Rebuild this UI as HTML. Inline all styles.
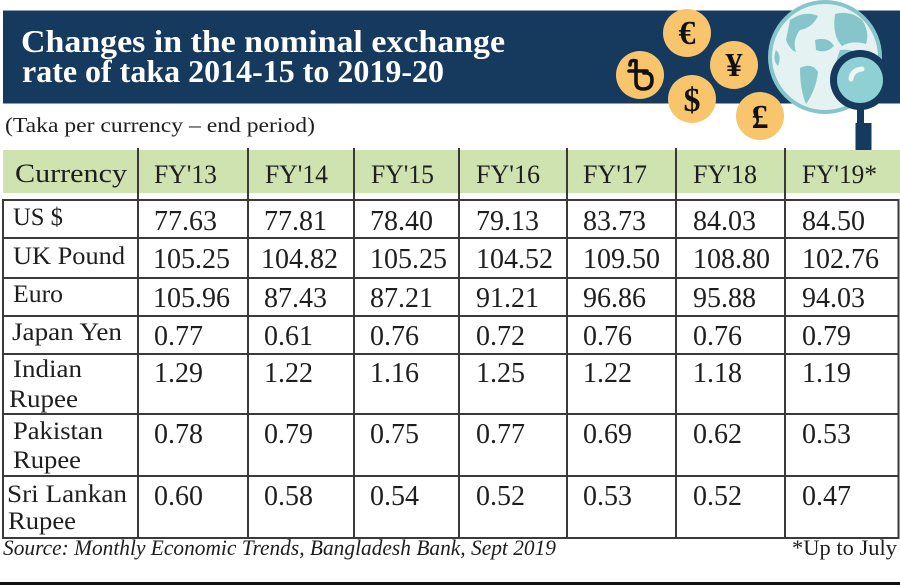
<!DOCTYPE html>
<html>
<head>
<meta charset="utf-8">
<style>
html,body{margin:0;padding:0;background:#fff;}
svg{display:block;}
text{font-family:"Liberation Serif",serif;fill:#1e1e1e;}
.v{font-size:28px;}
.l{font-size:25px;}
.h{font-size:26.5px;}
</style>
</head>
<body>
<svg width="900" height="585" viewBox="0 0 900 585" xmlns="http://www.w3.org/2000/svg">
<rect x="0" y="0" width="900" height="585" fill="#ffffff"/>
<!-- banner -->
<rect x="3" y="10.5" width="897" height="93" fill="#163a5e"/>
<text x="21" y="52" font-size="32" font-weight="bold" style="fill:#fff" textLength="484" lengthAdjust="spacingAndGlyphs">Changes in the nominal exchange</text>
<text x="22" y="82" font-size="32" font-weight="bold" style="fill:#fff" textLength="422" lengthAdjust="spacingAndGlyphs">rate of taka 2014-15 to 2019-20</text>

<!-- coins -->
<g fill="#f8c46c">
<circle cx="640" cy="75" r="24"/>
<circle cx="687" cy="33" r="24"/>
<circle cx="734" cy="65" r="24"/>
<circle cx="692" cy="99" r="24"/>
<circle cx="760" cy="116" r="24"/>
</g>
<text x="687" y="44" font-size="34" font-weight="bold" text-anchor="middle" style="fill:#111">€</text>
<text x="734" y="76" font-size="34" font-weight="bold" text-anchor="middle" style="fill:#111">¥</text>
<text x="692" y="111" font-size="34" font-weight="bold" text-anchor="middle" style="fill:#111">$</text>
<text x="760" y="128" font-size="34" font-weight="bold" text-anchor="middle" style="fill:#111">£</text>
<!-- taka icon -->
<g fill="none" stroke="#111" stroke-width="3.6" stroke-linecap="round">
<path d="M630 65 Q630 59 636 61 L636 82 Q636 89 643 89 Q652 89 652 80 Q652 72 644 73"/>
<path d="M629 71 L647 71"/>
</g>

<!-- globe -->
<circle cx="825" cy="57" r="57" fill="#86c6ca"/>
<circle cx="825" cy="57" r="53" fill="#e4f2f2"/>
<g fill="#86c6ca">
<path d="M790 20 Q805 10 818 16 Q812 28 800 30 Q792 40 796 52 Q790 50 786 40 Z"/>
<path d="M800 68 Q812 62 818 72 Q816 90 806 104 Q800 90 800 68 Z"/>
<path d="M835 14 Q850 10 862 20 Q870 32 866 44 Q852 40 842 46 Q832 36 835 14 Z"/>
<path d="M840 50 Q855 48 870 60 Q878 80 870 100 Q850 108 835 90 Q832 70 840 50 Z"/>
<path d="M776 50 Q782 56 778 66 Q772 60 776 50 Z"/>
<path d="M815 40 Q828 36 834 46 Q826 54 816 50 Z"/>
</g>

<!-- magnifier -->
<rect x="857" y="104" width="7" height="20" fill="#163a5e"/>
<rect x="855.5" y="123" width="16" height="29" fill="#163a5e"/>
<circle cx="860" cy="80" r="30" fill="#163a5e"/>
<circle cx="860" cy="80" r="23" fill="#8fd0d4"/>
<path d="M851 79 Q852 70 862 69" fill="none" stroke="#eef6f6" stroke-width="5" stroke-linecap="round"/>

<!-- subtitle -->
<text x="5" y="132" font-size="21" textLength="310" lengthAdjust="spacingAndGlyphs">(Taka per currency – end period)</text>

<!-- header -->
<rect x="3" y="150" width="897" height="43" fill="#cfe3b1"/>

<!-- grid -->
<g stroke="#3a3a3a" stroke-width="2">
<line x1="3" y1="200" x2="899" y2="200"/>
<line x1="3" y1="238" x2="899" y2="238"/>
<line x1="3" y1="278" x2="899" y2="278"/>
<line x1="3" y1="316" x2="899" y2="316"/>
<line x1="3" y1="354" x2="899" y2="354"/>
<line x1="3" y1="414" x2="899" y2="414"/>
<line x1="3" y1="476" x2="899" y2="476"/>
<line x1="3" y1="538" x2="899" y2="538"/>
<line x1="3" y1="199" x2="3" y2="539"/>
<line x1="898.5" y1="199" x2="898.5" y2="539"/>
<line x1="138" y1="148" x2="138" y2="539"/>
<line x1="248" y1="148" x2="248" y2="539"/>
<line x1="354" y1="148" x2="354" y2="539"/>
<line x1="459" y1="148" x2="459" y2="539"/>
<line x1="567" y1="148" x2="567" y2="539"/>
<line x1="676" y1="148" x2="676" y2="539"/>
<line x1="785" y1="148" x2="785" y2="539"/>
</g>

<!-- header text -->
<text class="h" x="15" y="182" textLength="112" lengthAdjust="spacingAndGlyphs">Currency</text>
<text class="h" x="154" y="183" textLength="63" lengthAdjust="spacingAndGlyphs">FY'13</text>
<text class="h" x="265" y="183" textLength="63" lengthAdjust="spacingAndGlyphs">FY'14</text>
<text class="h" x="371" y="183" textLength="63" lengthAdjust="spacingAndGlyphs">FY'15</text>
<text class="h" x="476" y="183" textLength="64" lengthAdjust="spacingAndGlyphs">FY'16</text>
<text class="h" x="583" y="183" textLength="64" lengthAdjust="spacingAndGlyphs">FY'17</text>
<text class="h" x="693" y="183" textLength="64" lengthAdjust="spacingAndGlyphs">FY'18</text>
<text class="h" x="802" y="183" textLength="75" lengthAdjust="spacingAndGlyphs">FY'19*</text>

<!-- labels -->
<text class="l" x="13" y="225" textLength="50" lengthAdjust="spacingAndGlyphs">US $</text>
<text class="l" x="13" y="264" textLength="112" lengthAdjust="spacingAndGlyphs">UK Pound</text>
<text class="l" x="13" y="302" textLength="50" lengthAdjust="spacingAndGlyphs">Euro</text>
<text class="l" x="12" y="340" textLength="110" lengthAdjust="spacingAndGlyphs">Japan Yen</text>
<text class="l" x="13" y="377" textLength="69" lengthAdjust="spacingAndGlyphs">Indian</text>
<text class="l" x="9" y="407" textLength="69" lengthAdjust="spacingAndGlyphs">Rupee</text>
<text class="l" x="13" y="439" textLength="90" lengthAdjust="spacingAndGlyphs">Pakistan</text>
<text class="l" x="13" y="468" textLength="68" lengthAdjust="spacingAndGlyphs">Rupee</text>
<text class="l" x="7" y="502" textLength="120" lengthAdjust="spacingAndGlyphs">Sri Lankan</text>
<text class="l" x="8" y="529" textLength="68" lengthAdjust="spacingAndGlyphs">Rupee</text>

<!-- values -->
<g class="v">
<text class="v" x="154" y="230">77.63</text><text class="v" x="264" y="230">77.81</text><text class="v" x="370" y="230">78.40</text><text class="v" x="476" y="230">79.13</text><text class="v" x="583" y="230">83.73</text><text class="v" x="693" y="230">84.03</text><text class="v" x="802" y="230">84.50</text>
<text class="v" x="153" y="268">105.25</text><text class="v" x="261" y="268">104.82</text><text class="v" x="370" y="268">105.25</text><text class="v" x="476" y="268">104.52</text><text class="v" x="583" y="268">109.50</text><text class="v" x="693" y="268">108.80</text><text class="v" x="802" y="268">102.76</text>
<text class="v" x="153" y="307">105.96</text><text class="v" x="264" y="307">87.43</text><text class="v" x="370" y="307">87.21</text><text class="v" x="476" y="307">91.21</text><text class="v" x="583" y="307">96.86</text><text class="v" x="693" y="307">95.88</text><text class="v" x="802" y="307">94.03</text>
<text class="v" x="154" y="345">0.77</text><text class="v" x="264" y="345">0.61</text><text class="v" x="370" y="345">0.76</text><text class="v" x="476" y="345">0.72</text><text class="v" x="583" y="345">0.76</text><text class="v" x="693" y="345">0.76</text><text class="v" x="802" y="345">0.79</text>
<text class="v" x="154" y="382">1.29</text><text class="v" x="264" y="382">1.22</text><text class="v" x="370" y="382">1.16</text><text class="v" x="476" y="382">1.25</text><text class="v" x="583" y="382">1.22</text><text class="v" x="693" y="382">1.18</text><text class="v" x="802" y="382">1.19</text>
<text class="v" x="154" y="443">0.78</text><text class="v" x="264" y="443">0.79</text><text class="v" x="370" y="443">0.75</text><text class="v" x="476" y="443">0.77</text><text class="v" x="583" y="443">0.69</text><text class="v" x="693" y="443">0.62</text><text class="v" x="802" y="443">0.53</text>
<text class="v" x="154" y="505">0.60</text><text class="v" x="264" y="505">0.58</text><text class="v" x="370" y="505">0.54</text><text class="v" x="476" y="505">0.52</text><text class="v" x="583" y="505">0.53</text><text class="v" x="693" y="505">0.52</text><text class="v" x="802" y="505">0.47</text>
</g>

<!-- footer -->
<text x="3" y="555" font-size="22" font-style="italic" textLength="553" lengthAdjust="spacingAndGlyphs">Source: Monthly Economic Trends, Bangladesh Bank, Sept 2019</text>
<text x="792" y="555" font-size="22" textLength="105" lengthAdjust="spacingAndGlyphs">*Up to July</text>
<rect x="0" y="582" width="900" height="3" fill="#111"/>
</svg>
</body>
</html>
